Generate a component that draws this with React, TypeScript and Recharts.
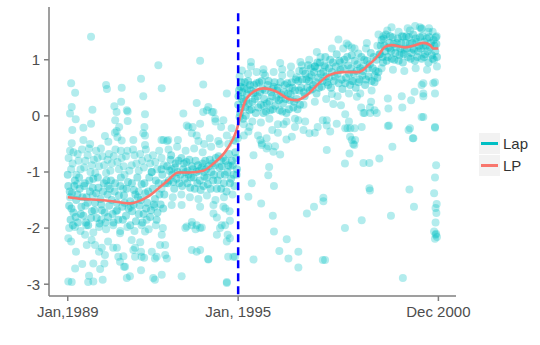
import { ComposedChart, Scatter, Line, XAxis, YAxis, ReferenceLine } from 'recharts';

// x is measured in plot units: 0 = Jan 1989, 6 = Jan 1995 (the break), 13.05 = Dec 2000
const xTicks = [0, 6, 13.05];
const xTickLabels = ['Jan,1989', 'Jan, 1995', 'Dec 2000'];
const yTicks = [-3, -2, -1, 0, 1];
const breakX = 6;
const legendNames = ['Lap', 'LP'];

// smoothed LP curve
const lpCurve: [number, number][] = [
  [0, -1.45], [0.5, -1.48], [1.14, -1.5], [1.7, -1.53], [2.19, -1.56], [2.55, -1.51], [2.85, -1.43],
  [3.13, -1.32], [3.49, -1.17], [3.89, -1.01], [4.31, -1.01], [4.77, -0.98], [5.13, -0.85], [5.6, -0.6],
  [5.95, -0.25], [6.07, -0.02], [6.24, 0.25], [6.54, 0.43], [6.89, 0.49], [7.36, 0.43], [7.83, 0.29],
  [8.06, 0.28], [8.42, 0.37], [8.88, 0.6], [9.18, 0.72], [9.65, 0.78], [10.23, 0.78], [10.58, 0.9],
  [10.94, 1.08], [11.17, 1.23], [11.4, 1.26], [11.88, 1.22], [12.23, 1.26], [12.52, 1.3], [12.76, 1.26],
  [12.87, 1.2], [13.05, 1.2],
];

// dense cores of the Lap cloud
const lapCore: [number, number][] = [
  [0.02, -1.25], [0.05, -1.6], [0.1, -1.85], [0.15, -1.38], [0.2, -1.72], [0.25, -1.15], [0.3, -1.5], [0.36, -1.9],
  [0.42, -1.3], [0.48, -1.62], [0.55, -1.78], [0.6, -1.2], [0.66, -1.45], [0.72, -1.95], [0.78, -1.35], [0.85, -1.7],
  [0.9, -1.12], [0.96, -1.55], [1.02, -1.82], [1.08, -1.28], [1.15, -1.48], [1.2, -1.68], [1.27, -1.2], [1.33, -1.9],
  [1.4, -1.4], [1.46, -1.6], [1.52, -1.15], [1.58, -1.75], [1.65, -1.35], [1.72, -1.55], [1.78, -1.85], [1.85, -1.25],
  [1.92, -1.62], [1.98, -1.42], [2.05, -1.78], [2.12, -1.18], [2.2, -1.52], [2.27, -1.7], [2.33, -1.32], [2.4, -1.88],
  [2.47, -1.45], [2.53, -1.6], [2.6, -1.22], [2.67, -1.75], [2.73, -1.38], [2.8, -1.55], [2.87, -1.1], [2.93, -1.68],
  [3.0, -1.3], [3.07, -1.48], [3.13, -1.85], [3.2, -1.2], [3.27, -1.58], [3.33, -1.05], [3.4, -1.4],
  [0.0, -1.05], [0.07, -1.35], [0.13, -1.65], [0.18, -1.95], [0.23, -1.25], [0.28, -1.8], [0.34, -1.4], [0.4, -1.1],
  [0.46, -1.75], [0.52, -1.45], [0.58, -1.25], [0.64, -1.9], [0.7, -1.55], [0.76, -1.15], [0.82, -1.82], [0.88, -1.28],
  [0.94, -1.68], [1.0, -1.38], [1.06, -1.1], [1.12, -1.92], [1.18, -1.58], [1.24, -1.35], [1.3, -1.72], [1.36, -1.15],
  [1.42, -1.8], [1.48, -1.3], [1.55, -1.5], [1.61, -1.9], [1.67, -1.2], [1.74, -1.68], [1.8, -1.42], [1.87, -1.1],
  [1.94, -1.85], [2.0, -1.55], [2.07, -1.3], [2.14, -1.65], [2.2, -1.95], [2.26, -1.2], [2.32, -1.58], [2.38, -1.4],
  [2.45, -1.1], [2.5, -1.75], [2.57, -1.5], [2.63, -1.9], [2.7, -1.2], [2.76, -1.65], [2.83, -1.35], [2.9, -1.8],
  [2.96, -1.0], [3.03, -1.58], [3.1, -1.15], [3.16, -1.72], [3.23, -1.4], [3.3, -0.95], [3.36, -1.65], [3.43, -1.2],
  [3.5, -0.9], [3.56, -1.15], [3.62, -0.78], [3.68, -1.05], [3.75, -1.3], [3.8, -0.85], [3.87, -1.0], [3.93, -1.2],
  [4.0, -0.75], [4.06, -0.95], [4.12, -1.12], [4.18, -0.82], [4.25, -1.05], [4.31, -1.28], [4.37, -0.9], [4.43, -1.1],
  [4.5, -0.8], [4.56, -1.2], [4.62, -0.98], [4.68, -1.32], [4.75, -0.85], [4.81, -1.08], [4.87, -0.95], [4.93, -1.22],
  [5.0, -0.78], [5.06, -1.0], [5.12, -1.15], [5.18, -0.88], [5.25, -1.3], [5.31, -0.72], [5.37, -1.05], [5.43, -0.9],
  [5.5, -1.2], [5.56, -0.8], [5.62, -1.0], [5.68, -0.68], [5.75, -1.12], [5.81, -0.88], [5.87, -1.25], [5.93, -0.75],
  [3.52, -1.2], [3.58, -0.98], [3.64, -0.7], [3.71, -1.18], [3.77, -0.92], [3.83, -1.12], [3.9, -0.8], [3.96, -1.05],
  [4.03, -1.25], [4.09, -0.85], [4.15, -1.0], [4.21, -1.2], [4.28, -0.78], [4.34, -1.1], [4.4, -0.95], [4.47, -1.3],
  [4.53, -1.0], [4.59, -0.88], [4.65, -1.15], [4.71, -0.92], [4.78, -1.25], [4.84, -0.8], [4.9, -1.1], [4.96, -0.9],
  [5.03, -1.3], [5.09, -0.85], [5.15, -1.05], [5.21, -0.75], [5.28, -1.15], [5.34, -0.92], [5.4, -1.3], [5.46, -0.75],
  [5.53, -1.05], [5.59, -1.35], [5.65, -0.88], [5.71, -1.2], [5.78, -0.8], [5.84, -1.05], [5.9, -0.65], [5.96, -0.95],
  [6.0, 0.2], [6.03, 0.45], [6.07, 0.05], [6.1, 0.6], [6.13, 0.3], [6.17, -0.05], [6.2, 0.5], [6.25, 0.15],
  [6.3, 0.38], [6.35, 0.62], [6.4, 0.1], [6.45, 0.45], [6.5, 0.25], [6.56, 0.55], [6.62, 0.05], [6.68, 0.35],
  [6.74, 0.6], [6.8, 0.2], [6.86, 0.48], [6.92, 0.3], [6.98, 0.08], [7.04, 0.55], [7.1, 0.25], [7.16, 0.42],
  [7.22, 0.12], [7.28, 0.6], [7.34, 0.32], [7.4, 0.5], [7.46, 0.1], [7.52, 0.38], [7.58, 0.22], [7.64, 0.55],
  [7.7, 0.05], [7.76, 0.4], [7.82, 0.28], [7.88, 0.6], [7.94, 0.15], [8.0, 0.45], [8.06, 0.3], [8.12, 0.62], [8.18, 0.2],
  [6.01, 0.35], [6.05, -0.02], [6.08, 0.52], [6.12, 0.15], [6.15, 0.42], [6.19, 0.25], [6.23, 0.6], [6.27, 0.0],
  [6.32, 0.48], [6.37, 0.22], [6.42, 0.55], [6.47, 0.12], [6.53, 0.4], [6.59, 0.3], [6.65, 0.58], [6.71, 0.15],
  [6.77, 0.42], [6.83, 0.62], [6.89, 0.05], [6.95, 0.45], [7.01, 0.22], [7.07, 0.62], [7.13, 0.1], [7.19, 0.35],
  [7.25, 0.52], [7.31, 0.18], [7.37, 0.45], [7.43, 0.28], [7.49, 0.6], [7.55, 0.08], [7.61, 0.42], [7.67, 0.3],
  [7.73, 0.58], [7.79, 0.12], [7.85, 0.38], [7.91, 0.5], [7.97, 0.25], [8.03, 0.65], [8.09, 0.12], [8.15, 0.45],
  [8.22, 0.5], [8.28, 0.8], [8.34, 0.35], [8.4, 0.65], [8.46, 0.9], [8.52, 0.45], [8.58, 0.72], [8.64, 0.55],
  [8.7, 0.88], [8.76, 0.4], [8.82, 0.68], [8.88, 0.95], [8.94, 0.52], [9.0, 0.78], [9.07, 1.05], [9.13, 0.6],
  [9.2, 0.85], [9.27, 0.5], [9.34, 0.95], [9.4, 0.7], [9.47, 1.1], [9.54, 0.58], [9.6, 0.82], [9.67, 0.48],
  [9.74, 1.0], [9.8, 0.68], [9.87, 0.9], [9.94, 0.55], [10.0, 1.08], [10.07, 0.75], [10.14, 0.5], [10.2, 0.92],
  [10.27, 0.65], [10.34, 1.05], [10.4, 0.8], [10.47, 0.55], [10.54, 0.98], [10.6, 0.7], [10.67, 1.12], [10.74, 0.85],
  [10.8, 0.6], [10.87, 1.0], [10.94, 0.78],
  [8.25, 0.65], [8.31, 0.42], [8.37, 0.75], [8.43, 0.5], [8.49, 0.62], [8.55, 0.85], [8.61, 0.48], [8.67, 0.78],
  [8.73, 0.6], [8.79, 0.95], [8.85, 0.5], [8.91, 0.75], [8.97, 0.62], [9.04, 0.9], [9.1, 0.7], [9.17, 0.55],
  [9.24, 1.0], [9.3, 0.78], [9.37, 0.62], [9.44, 0.88], [9.5, 0.75], [9.57, 0.98], [9.64, 0.65], [9.7, 0.85],
  [9.77, 0.58], [9.84, 1.05], [9.9, 0.75], [9.97, 0.85], [10.04, 0.62], [10.1, 0.98], [10.17, 0.8], [10.24, 0.6],
  [10.3, 0.85], [10.37, 0.72], [10.44, 1.0], [10.5, 0.65], [10.57, 0.85], [10.64, 0.92], [10.7, 0.62], [10.77, 1.05],
  [10.84, 0.8], [10.9, 0.68], [10.97, 1.1],
  [11.0, 1.1], [11.05, 1.35], [11.1, 0.95], [11.15, 1.25], [11.2, 1.45], [11.26, 1.05], [11.32, 1.3], [11.38, 1.15],
  [11.44, 1.4], [11.5, 1.0], [11.56, 1.22], [11.62, 1.38], [11.68, 1.08], [11.74, 1.3], [11.8, 0.95], [11.86, 1.18],
  [11.92, 1.42], [11.98, 1.05], [12.04, 1.28], [12.1, 1.12], [12.16, 1.45], [12.22, 0.98], [12.28, 1.32], [12.34, 1.15],
  [12.4, 1.4], [12.46, 1.02], [12.52, 1.25], [12.58, 1.1], [12.64, 1.38], [12.7, 0.95], [12.76, 1.22], [12.82, 1.08],
  [12.88, 1.35], [12.94, 1.15], [12.98, 1.28], [13.0, 1.05],
  [11.02, 1.25], [11.08, 1.05], [11.12, 1.38], [11.18, 1.15], [11.23, 0.98], [11.29, 1.22], [11.35, 1.42], [11.41, 1.02],
  [11.47, 1.28], [11.53, 1.12], [11.59, 1.3], [11.65, 0.98], [11.71, 1.2], [11.77, 1.42], [11.83, 1.1], [11.89, 1.3],
  [11.95, 1.2], [12.01, 1.4], [12.07, 1.02], [12.13, 1.3], [12.19, 1.18], [12.25, 1.38], [12.31, 1.05], [12.37, 1.25],
  [12.43, 1.2], [12.49, 1.42], [12.55, 1.05], [12.61, 1.25], [12.67, 1.15], [12.73, 1.4], [12.79, 1.3], [12.85, 1.02],
  [12.91, 1.25], [12.96, 1.4],
];

// fringe of the clouds and scattered Lap points
const lapSpread: [number, number][] = [
  // fringe, 1989-1995
  [0.03, -0.75], [0.12, -0.95], [0.2, -0.65], [0.3, -1.05], [0.38, -0.8], [0.5, -0.6], [0.58, -0.92], [0.7, -0.7],
  [0.8, -1.0], [0.92, -0.78], [1.0, -0.62], [1.1, -0.9], [1.22, -0.72], [1.35, -1.02], [1.45, -0.68], [1.55, -0.85],
  [1.68, -0.6], [1.8, -0.95], [1.9, -0.75], [2.0, -1.05], [2.1, -0.62], [2.25, -0.88], [2.35, -0.7], [2.5, -0.98],
  [2.62, -0.8], [2.75, -0.6], [2.9, -0.85], [3.0, -0.7], [3.15, -0.95], [3.3, -0.75],
  [0.08, -0.62], [0.17, -0.85], [0.35, -0.68], [0.45, -0.95], [0.62, -0.8], [0.75, -0.58], [0.85, -0.88], [0.97, -1.02],
  [1.05, -0.75], [1.17, -0.58], [1.28, -0.88], [1.4, -0.78], [1.5, -0.98], [1.62, -0.72], [1.75, -0.82], [1.87, -0.62],
  [1.97, -0.9], [2.05, -0.72], [2.17, -0.98], [2.3, -0.6], [2.42, -0.85], [2.55, -0.68], [2.68, -0.92], [2.82, -0.75],
  [2.95, -1.0], [3.08, -0.82], [3.22, -0.62], [3.38, -0.88],
  [0.05, -2.0], [0.25, -1.98], [0.45, -2.05], [0.65, -1.95], [0.9, -2.08], [1.1, -1.98], [1.35, -2.02], [1.6, -1.95],
  [1.85, -2.05], [2.1, -1.98], [2.35, -2.05], [2.6, -1.95], [2.85, -2.02], [3.1, -1.95], [3.35, -2.0],
  [0.08, -1.45], [0.33, -1.22], [0.62, -1.6], [0.88, -1.42], [1.18, -1.85], [1.42, -1.25], [1.7, -1.7], [1.95, -1.3],
  [2.22, -1.62], [2.5, -1.35], [2.78, -1.85], [3.05, -1.62], [3.3, -1.3],
  [3.55, -0.6], [3.7, -1.45], [3.85, -0.55], [4.0, -1.4], [4.15, -0.62], [4.3, -1.45], [4.45, -0.58], [4.6, -1.48],
  [4.75, -0.65], [4.9, -1.42], [5.05, -0.55], [5.2, -1.5], [5.35, -0.5], [5.5, -1.45], [5.65, -0.5], [5.8, -1.4],
  [5.9, -0.45], [5.95, -1.05], [3.65, -0.95], [4.22, -0.98], [4.8, -1.0], [5.4, -0.8], [5.72, -0.9],
  // fringe, 1995-2000
  [6.05, 0.7], [6.2, -0.15], [6.35, 0.75], [6.5, -0.1], [6.65, 0.78], [6.8, -0.12], [6.95, 0.72], [7.1, -0.05],
  [7.25, 0.78], [7.4, -0.15], [7.55, 0.72], [7.7, -0.1], [7.85, 0.75], [8.0, -0.05], [8.15, 0.8], [6.28, 0.28],
  [6.6, 0.42], [6.9, 0.18], [7.2, 0.48], [7.5, 0.3], [7.8, 0.5],
  [8.3, 0.2], [8.5, 1.0], [8.7, 0.25], [8.9, 1.05], [9.1, 0.3], [9.3, 1.2], [9.5, 0.35], [9.7, 1.2], [9.9, 0.4],
  [10.1, 1.2], [10.3, 0.4], [10.5, 1.2], [10.7, 0.45], [10.9, 1.25], [9.2, 0.68], [9.6, 0.95], [10.0, 0.62],
  [10.4, 0.88], [10.8, 0.72],
  [11.05, 0.85], [11.25, 1.52], [11.45, 0.82], [11.65, 1.5], [11.85, 0.8], [12.05, 1.52], [12.25, 0.85], [12.45, 1.55],
  [12.65, 0.82], [12.85, 1.5], [13.0, 0.88], [11.35, 1.2], [11.75, 1.12], [12.15, 1.2], [12.55, 1.32], [12.9, 1.0],
  // high outliers before the break
  [0.82, 1.41], [3.19, 0.9], [0.12, 0.58], [1.35, 0.55], [1.38, 0.48], [1.9, 0.5], [2.58, 0.66], [3.31, 0.49],
  [0.26, 0.41], [2.66, 0.35], [1.88, 0.25], [0.14, 0.16], [0.87, 0.11], [1.64, 0.17], [1.72, 0.07], [2.11, 0.08],
  [0.08, 0.04], [2.72, 0.03], [0.28, -0.06], [1.67, -0.08], [2.11, -0.09], [0.82, -0.14], [0.55, -0.21], [1.81, -0.2],
  [2.7, -0.2], [1.72, -0.27], [0.16, -0.25], [1.31, -0.36], [2.66, -0.31], [4.07, 0.04], [4.25, -0.2], [4.37, -0.31],
  [0.55, -0.43], [1.9, -0.44], [2.31, -0.43], [3.37, -0.43], [3.54, -0.43], [3.88, -0.43], [0.14, -0.49], [0.79, -0.5],
  [1.43, -0.46], [2.72, -0.52], [4.66, 0.98], [4.77, 0.56], [4.54, 0.23], [4.95, 0.16], [5.6, 0.4], [5.13, 0.07],
  [4.77, 0.07], [4.66, -0.14], [4.19, -0.17], [5.19, -0.05], [5.48, -0.08], [5.77, -0.22], [5.83, -0.43], [4.54, -0.35],
  [5.0, -0.4], [2.08, 0.1], [1.66, -0.3], [1.75, -0.38], [2.72, -0.35], [3.3, -0.43], [3.5, -0.45], [4.9, 0.1],
  [5.08, 0.07], [5.2, -0.1], [5.4, -0.2], [5.6, -0.35], [5.3, -0.45], [4.4, -0.2], [4.6, -0.45], [4.8, -0.5],
  // low outliers before the break
  [0.02, -2.18], [0.12, -2.24], [0.29, -2.42], [0.61, -2.12], [0.67, -2.3], [0.26, -2.72], [0.51, -2.64], [0.02, -2.95],
  [0.14, -2.96], [0.72, -2.96], [0.9, -2.95], [1.23, -2.92], [0.9, -2.63], [1.29, -2.63], [1.14, -2.73], [0.96, -2.3],
  [1.1, -2.42], [1.2, -2.35], [1.31, -2.48], [0.84, -2.21], [1.6, -2.35], [1.73, -2.35], [1.42, -2.24], [1.84, -2.09],
  [1.78, -2.51], [2.02, -2.69], [2.19, -2.86], [1.96, -2.5], [2.37, -2.35], [2.55, -2.25], [2.37, -2.51], [2.6, -2.51],
  [2.58, -2.75], [2.96, -2.42], [3.07, -2.54], [3.25, -2.3], [3.43, -2.3], [3.43, -2.48], [3.07, -2.92], [3.31, -2.12],
  [2.72, -2.06], [2.25, -2.21], [4.01, -2.86], [3.66, -1.59], [4.01, -1.59], [4.19, -1.97], [4.37, -1.95], [4.37, -2.39],
  [3.49, -2.54], [2.08, -2.89], [0.75, -2.85], [4.66, -2.39], [4.95, -2.56], [5.6, -2.98], [5.65, -2.51], [4.14, -2.0],
  [4.5, -2.02], [4.66, -2.0], [3.13, -2.51], [3.01, -2.89], [3.31, -2.83], [1.98, -2.69], [1.84, -2.6], [2.58, -2.42],
  [2.69, -2.53], [2.31, -2.39], [5.25, -2.12], [5.36, -2.0], [5.63, -2.12], [5.71, -2.18], [5.83, -2.51], [5.13, -1.74],
  [4.66, -1.62], [5.48, -1.62], [5.71, -1.87], [5.13, -1.59], [5.25, -1.81], [5.55, -1.65], [5.7, -1.7], [5.42, -1.95],
  [5.54, -1.95], [4.37, -1.89], [4.54, -1.95], [4.72, -1.99], [5.6, -2.24], [4.54, -2.42], [4.95, -2.55], [5.89, -2.51],
  [5.6, -2.96],
  // outliers after the break
  [6.54, -0.7], [6.83, -0.52], [7.0, -0.58], [7.24, -0.64], [7.48, -0.69], [7.09, -0.91], [7.06, -1.06], [6.48, -1.2],
  [7.26, -1.25], [6.36, -1.44], [6.81, -1.56], [7.22, -1.78], [7.26, -2.06], [7.71, -2.2], [7.45, -2.41], [7.77, -2.54],
  [8.12, -2.42], [8.12, -2.7], [6.54, -2.56], [8.42, -1.74], [8.67, -1.62], [9.0, -1.46], [9.0, -1.52], [9.12, -0.61],
  [8.98, -2.57], [9.76, -0.85], [9.92, -0.67], [10.41, -0.84], [10.62, -0.84], [10.97, -0.76], [10.62, -1.29],
  [10.64, -1.33], [9.76, -2.0], [10.35, -1.86], [11.38, -1.78], [11.8, -2.89], [12.03, -1.31], [12.19, -1.62],
  [12.97, -0.88], [12.93, -1.1], [12.9, -1.38], [12.99, -1.57], [12.95, -1.64], [12.98, -1.73], [12.95, -1.9],
  [12.9, -2.06], [12.95, -2.12], [13.0, -2.16], [12.93, -2.19], [12.97, -2.1], [11.43, -0.55], [10.09, -0.52],
  [9.06, -2.57], [6.36, -0.28], [6.78, -0.43], [6.83, -0.49], [7.06, -0.54], [7.3, -0.54], [7.89, -0.37], [8.12, -0.08],
  [8.36, -0.1], [8.51, -0.31], [8.8, -0.2], [8.98, -0.08], [9.12, -0.17], [9.24, -0.28], [9.47, -0.14], [9.77, -0.22],
  [9.95, -0.22], [10.1, -0.22], [9.94, -0.37], [10.0, -0.43], [10.05, -0.5], [10.41, 0.05], [10.65, 0.05], [10.88, 0.05],
  [11.31, -0.17], [12.0, -0.25], [12.15, -0.4], [12.46, -0.02], [12.93, -0.2], [12.46, 0.55], [12.52, 0.4], [12.93, 0.6],
  [12.93, 0.4], [6.4, -0.2], [6.7, -0.35], [7.0, -0.4], [7.2, -0.25], [7.6, -0.15], [8.0, -0.2], [8.3, -0.25],
  [8.7, -0.3], [7.4, -0.3], [7.7, -0.42], [6.2, -0.35], [5.99, -0.4],
  [6.13, 0.81], [6.45, 0.96], [6.45, 0.88], [7.48, 0.94], [7.55, 0.83], [8.19, 0.96], [8.24, 0.9], [8.77, 1.14],
  [8.7, 0.88], [8.8, 0.85], [6.89, 0.83], [6.89, 0.76], [7.86, 0.88], [8.06, 0.69], [8.51, 0.69], [9.53, 1.36],
  [9.82, 1.29], [10.0, 1.22], [10.53, 1.3], [11.4, 1.58], [11.11, 1.42], [11.82, 1.41], [12.23, 1.6], [12.4, 1.58],
  [12.46, 1.56], [12.7, 1.5], [12.99, 1.42], [10.94, 1.45], [11.97, 1.56], [12.72, 1.56], [9.88, 1.26], [10.23, 1.11],
  [9.06, 0.87], [9.3, 0.39], [9.35, 0.21], [9.62, 0.19], [10.18, 0.34], [10.68, 0.25], [11.27, 0.31], [11.76, 0.35],
  [12.09, 0.28], [12.52, 0.35], [12.87, 0.58], [12.52, 0.58], [12.21, 0.43], [11.29, 0.13], [11.78, 0.15], [10.64, 0.15],
  [10.33, 0.15], [9.77, 0.03], [9.9, -0.1], [9.85, -0.22], [9.12, -0.08], [10.8, 0.1], [10.45, 0.05], [10.12, -0.43],
  [10.35, -0.2], [11.27, -0.18], [12.05, -0.22], [12.17, -0.4], [12.93, -0.21], [12.52, -0.02],
];

const TEAL = '#00BFC4';
const SALMON = '#F8766D';
const FONT = '"Liberation Sans", Arial, sans-serif';
const AXIS_GREY = '#7f7f7f';
const MARGIN = { top: 7, right: 84, bottom: 19, left: 0 };
const X_DOMAIN: [number, number] = [-0.66, 13.67];
const Y_DOMAIN: [number, number] = [-3.21, 1.94];

const toPts = (arr: [number, number][]) => arr.map(([t, v]) => ({ t, v }));

const makeDot = (opacity: number) => (props: any) => (
  <circle cx={props.cx} cy={props.cy} r={4} fill={TEAL} fillOpacity={opacity} stroke="none" />
);

function LegendKey({ color, label, top }: { color: string; label: string; top: number }) {
  return (
    <div style={{ position: 'absolute', left: 479, top, height: 21, display: 'flex', alignItems: 'center' }}>
      <div style={{ width: 21, height: 21, background: '#f2f2f2', position: 'relative' }}>
        <div style={{ position: 'absolute', left: 2, width: 17, top: 9, height: 3, background: color }} />
      </div>
      <span style={{ marginLeft: 3, fontSize: 15, fontFamily: FONT, color: '#333333' }}>{label}</span>
    </div>
  );
}

export default function App() {
  const corePts = toPts(lapCore);
  const spreadPts = toPts(lapSpread);
  const curvePts = toPts(lpCurve);

  return (
    <div style={{ position: 'absolute', left: 0, top: 0, width: 540, height: 345, background: '#fff' }}>
      <div style={{ position: 'absolute', left: 0, top: 0 }}>
        <ComposedChart width={540} height={345} margin={MARGIN}>
          <XAxis
            type="number"
            dataKey="t"
            domain={X_DOMAIN}
            ticks={xTicks}
            tickFormatter={(v: number) => xTickLabels[xTicks.indexOf(v)] ?? ''}
            height={30}
            tickSize={5}
            tickMargin={5}
            interval={0}
            allowDataOverflow
            axisLine={{ stroke: AXIS_GREY, strokeWidth: 1.5 }}
            tickLine={{ stroke: AXIS_GREY, strokeWidth: 1.5 }}
            tick={{ fill: '#4d4d4d', fontSize: 15, fontFamily: FONT }}
          />
          <YAxis
            type="number"
            dataKey="v"
            domain={Y_DOMAIN}
            ticks={yTicks}
            width={49}
            tickSize={5}
            tickMargin={4}
            interval={0}
            allowDataOverflow
            axisLine={{ stroke: AXIS_GREY, strokeWidth: 1.5 }}
            tickLine={{ stroke: AXIS_GREY, strokeWidth: 1.5 }}
            tick={{ fill: '#4d4d4d', fontSize: 15, fontFamily: FONT }}
          />
          <Scatter name="Lap" data={spreadPts} shape={makeDot(0.3)} isAnimationActive={false} />
          <Scatter name="Lap core" data={corePts} shape={makeDot(0.4)} isAnimationActive={false} />
        </ComposedChart>
      </div>
      {/* overlay with the same plot box so the LP curve and the break line sit above the points */}
      <div style={{ position: 'absolute', left: 0, top: 0 }}>
        <ComposedChart width={540} height={345} margin={{ ...MARGIN, left: 49, bottom: 49 }}>
          <XAxis type="number" dataKey="t" domain={X_DOMAIN} allowDataOverflow hide />
          <YAxis type="number" dataKey="v" domain={Y_DOMAIN} allowDataOverflow hide />
          <Line
            name="LP"
            data={curvePts}
            dataKey="v"
            type="monotone"
            stroke={SALMON}
            strokeWidth={2.6}
            dot={false}
            activeDot={false}
            isAnimationActive={false}
          />
          <ReferenceLine
            segment={[{ x: breakX, y: 1.83 }, { x: breakX, y: -3.21 }]}
            stroke="#0000FF"
            strokeWidth={2.5}
            strokeDasharray="8 5"
          />
        </ComposedChart>
      </div>
      <LegendKey color={TEAL} label={legendNames[0]} top={133} />
      <LegendKey color={SALMON} label={legendNames[1]} top={155} />
    </div>
  );
}
